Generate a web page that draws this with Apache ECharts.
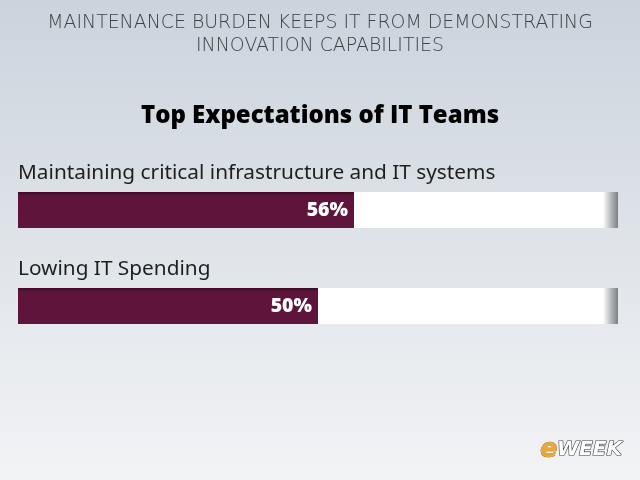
<!DOCTYPE html>
<html lang="en">
<head>
    <meta charset="UTF-8">
    <title>Top Expectations of IT Teams</title>
    <script src="https://cdn.jsdelivr.net/npm/echarts@6/dist/echarts.min.js"></script>
    <style>
        html,body{margin:0;padding:0;}
        #chart{width:640px;height:480px;}
    </style>
</head>
<body>
<div id="chart"></div>
<script>
    var headerText = 'MAINTENANCE BURDEN KEEPS IT FROM DEMONSTRATING\nINNOVATION CAPABILITIES';
    var chartTitle = 'Top Expectations of IT Teams';
    var categories = ['Maintaining critical infrastructure and IT systems', 'Lowing IT Spending'];
    var values = [56, 50];

    var myChart = echarts.init(document.getElementById('chart'));

    var option = {
        backgroundColor: {
            type: 'linear', x: 0, y: 0, x2: 0, y2: 1,
            colorStops: [
                {offset: 0, color: '#cbd3dc'},
                {offset: 0.6, color: '#e3e7ec'},
                {offset: 1, color: '#f2f3f5'}
            ]
        },
        title: [{
            text: chartTitle,
            left: 'center',
            top: 99,
            textStyle: {
                fontFamily: 'Open Sans',
                fontWeight: 800,
                fontSize: 24,
                color: '#000'
            }
        }],
        grid: {left: 18, right: 22, top: 162, bottom: 126},
        xAxis: {
            type: 'value', min: 0, max: 100, show: false
        },
        yAxis: {
            type: 'category',
            inverse: true,
            data: categories,
            axisLine: {show: false},
            axisTick: {show: false},
            axisLabel: {show: false}
        },
        series: [{
            type: 'bar',
            data: values,
            barWidth: 36,
            showBackground: true,
            backgroundStyle: {
                color: {
                    type: 'linear', x: 0, y: 0, x2: 1, y2: 0,
                    colorStops: [
                        {offset: 0, color: '#ffffff'},
                        {offset: 0.975, color: '#ffffff'},
                        {offset: 0.988, color: '#b7babd'},
                        {offset: 1, color: '#7d8083'}
                    ]
                }
            },
            itemStyle: {
                color: {
                    type: 'linear', x: 0, y: 0, x2: 0, y2: 1,
                    colorStops: [
                        {offset: 0, color: '#3c0a24'},
                        {offset: 0.1, color: '#5e143b'},
                        {offset: 1, color: '#5e143b'}
                    ]
                }
            },
            label: {
                show: true,
                position: 'insideRight',
                distance: 6,
                formatter: '{c}%',
                fontFamily: 'Open Sans',
                fontWeight: 800,
                fontSize: 19.5,
                color: '#ffffff'
            }
        }]
    };

    myChart.setOption(option);

    // header, category captions above each bar, logo
    var graphics = [{
        type: 'text',
        x: 320,
        y: 12,
        style: {
            text: headerText,
            align: 'center',
            fontFamily: '"DejaVu Sans ExtraLight", "DejaVu Sans"',
            fontWeight: 200,
            fontSize: 18.9,
            lineHeight: 23,
            fill: '#3f4246'
        }
    }];
    categories.forEach(function (cat) {
        var y = myChart.convertToPixel({yAxisIndex: 0}, cat);
        graphics.push({
            type: 'text',
            x: 18,
            y: y - 37,
            style: {
                text: cat,
                verticalAlign: 'middle',
                fontFamily: 'Noto Sans',
                fontSize: 20.8,
                fill: '#1e1e1e'
            }
        });
    });
    graphics.push({
        type: 'text',
        x: 540,
        y: 437,
        style: {
            text: 'e',
            fontFamily: 'DejaVu Sans',
            fontStyle: 'italic',
            fontWeight: 'bold',
            fontSize: 26,
            fill: '#e8a83a',
            stroke: '#6b4a12',
            lineWidth: 0.5
        }
    }, {
        type: 'text',
        x: 557,
        y: 440,
        style: {
            text: 'WEEK',
            fontFamily: 'DejaVu Sans',
            fontStyle: 'italic',
            fontWeight: 'bold',
            fontSize: 20,
            fill: '#ffffff',
            stroke: '#3a3a3a',
            lineWidth: 1.2
        }
    });
    myChart.setOption({graphic: graphics});
</script>
</body>
</html>
